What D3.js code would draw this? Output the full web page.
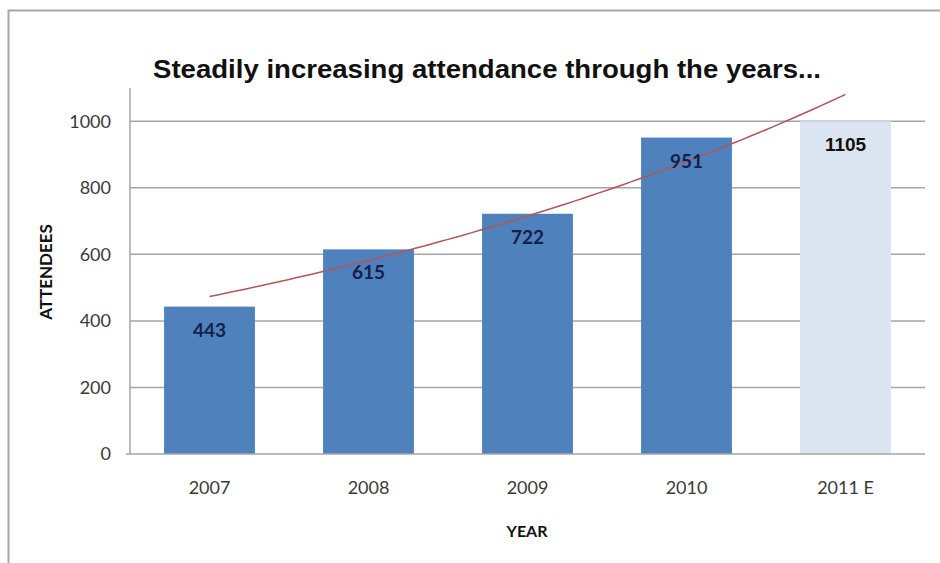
<!DOCTYPE html>
<html>
<head>
<meta charset="utf-8">
<script src="https://cdn.jsdelivr.net/npm/d3@7"></script>
<style>
  html, body { margin: 0; padding: 0; background: #fff; }
  svg { display: block; }
</style>
</head>
<body>
<svg id="chart" width="940" height="563"></svg>
<script>
// ---- Data ----
const categories = ["2007", "2008", "2009", "2010", "2011 E"];
const attendees = [443, 615, 722, 951, 1000];
const barLabels = ["443", "615", "722", "951", "1105"];
const estimated = [false, false, false, false, true];
const yTicks = [0, 200, 400, 600, 800, 1000];
const titleText = "Steadily increasing attendance through the years...";
const yTitle = "ATTENDEES";
const xTitle = "YEAR";

// ---- Layout ----
const svg = d3.select("#chart");
const plot = { left: 130, right: 925, top: 88, bottom: 454 };
const bodyFont = "Lato, 'Open Sans', sans-serif";

svg.append("rect").attr("x", 8.5).attr("y", 10.5).attr("width", 960).attr("height", 600)
  .attr("fill", "#fff").attr("stroke", "#a8a8a8").attr("stroke-width", 2);

const gap = 0.75 / 1.75;
const x = d3.scaleBand().domain(categories).range([plot.left, plot.right])
  .paddingInner(gap).paddingOuter(gap / 2);
const y = d3.scaleLinear().domain([0, 1100]).range([plot.bottom, plot.top]);

// gridlines
svg.append("g").selectAll("line").data(yTicks.filter(d => d > 0)).join("line")
  .attr("x1", plot.left).attr("x2", plot.right)
  .attr("y1", d => y(d)).attr("y2", d => y(d))
  .attr("stroke", "#a6a6a6").attr("stroke-width", 1.5);

// bars
svg.append("g").selectAll("rect").data(categories).join("rect")
  .attr("x", d => x(d)).attr("width", x.bandwidth())
  .attr("y", (d, i) => y(attendees[i]))
  .attr("height", (d, i) => y(0) - y(attendees[i]))
  .attr("fill", (d, i) => estimated[i] ? "#dbe5f1" : "#4f81bd");

// axes
const yAxis = d3.axisLeft(y).tickValues(yTicks).tickFormat(d3.format("d")).tickSize(0).tickPadding(19);
const gy = svg.append("g").attr("transform", `translate(${plot.left},0)`).call(yAxis);
gy.select(".domain").remove();
gy.selectAll("text").attr("font-family", bodyFont)
  .attr("font-size", 18).attr("fill", "#3a3a3a");
svg.append("line").attr("x1", plot.left).attr("x2", plot.left)
  .attr("y1", plot.top).attr("y2", plot.bottom)
  .attr("stroke", "#a6a6a6").attr("stroke-width", 1.5);
svg.append("line").attr("x1", plot.left - 4).attr("x2", plot.right)
  .attr("y1", y(0)).attr("y2", y(0))
  .attr("stroke", "#a6a6a6").attr("stroke-width", 1.5);

const xAxis = d3.axisBottom(x).tickSize(0).tickPadding(27);
const gx = svg.append("g").attr("transform", `translate(0,${plot.bottom})`).call(xAxis);
gx.select(".domain").remove();
gx.selectAll("text").attr("font-family", bodyFont)
  .attr("font-size", 18).attr("fill", "#3a3a3a");

// exponential trendline (least squares on ln values)
const xs = attendees.map((d, i) => i + 1);
const ls = attendees.map(d => Math.log(d));
const mx = d3.mean(xs), ml = d3.mean(ls);
const b = d3.sum(xs, (v, i) => (v - mx) * (ls[i] - ml)) / d3.sum(xs, v => (v - mx) ** 2);
const a = ml - b * mx;
const tx = d3.scaleLinear().domain([1, categories.length])
  .range([x(categories[0]) + x.bandwidth() / 2, x(categories[categories.length - 1]) + x.bandwidth() / 2]);
const trend = d3.range(1, categories.length + 0.001, 0.05).map(t => [tx(t), y(Math.exp(a + b * t))]);
svg.append("path").attr("d", d3.line()(trend))
  .attr("fill", "none").attr("stroke", "#b0575a").attr("stroke-width", 1.5);

// bar labels
svg.append("g").selectAll("text").data(categories).join("text")
  .attr("x", d => x(d) + x.bandwidth() / 2)
  .attr("y", (d, i) => y(attendees[i]) + 30)
  .attr("text-anchor", "middle")
  .attr("font-family", (d, i) => estimated[i] ? "'Liberation Sans', Arial, sans-serif" : bodyFont)
  .attr("font-weight", "bold").attr("font-size", 19)
  .attr("fill", (d, i) => estimated[i] ? "#111" : "#13204a")
  .text((d, i) => barLabels[i]);

// title
svg.append("text").attr("x", 487).attr("y", 78).attr("text-anchor", "middle")
  .attr("font-family", "'Liberation Sans', Arial, sans-serif").attr("font-weight", "bold")
  .attr("font-size", 26).attr("fill", "#111")
  .attr("textLength", 668).attr("lengthAdjust", "spacingAndGlyphs")
  .text(titleText);

// axis titles
svg.append("text").attr("transform", "translate(52,272) rotate(-90)")
  .attr("text-anchor", "middle").attr("font-family", bodyFont)
  .attr("font-weight", "bold").attr("font-size", 17).attr("fill", "#111").text(yTitle);
svg.append("text").attr("x", 527).attr("y", 537).attr("text-anchor", "middle")
  .attr("font-family", bodyFont)
  .attr("font-weight", "bold").attr("font-size", 16).attr("fill", "#111").text(xTitle);
</script>
</body>
</html>
